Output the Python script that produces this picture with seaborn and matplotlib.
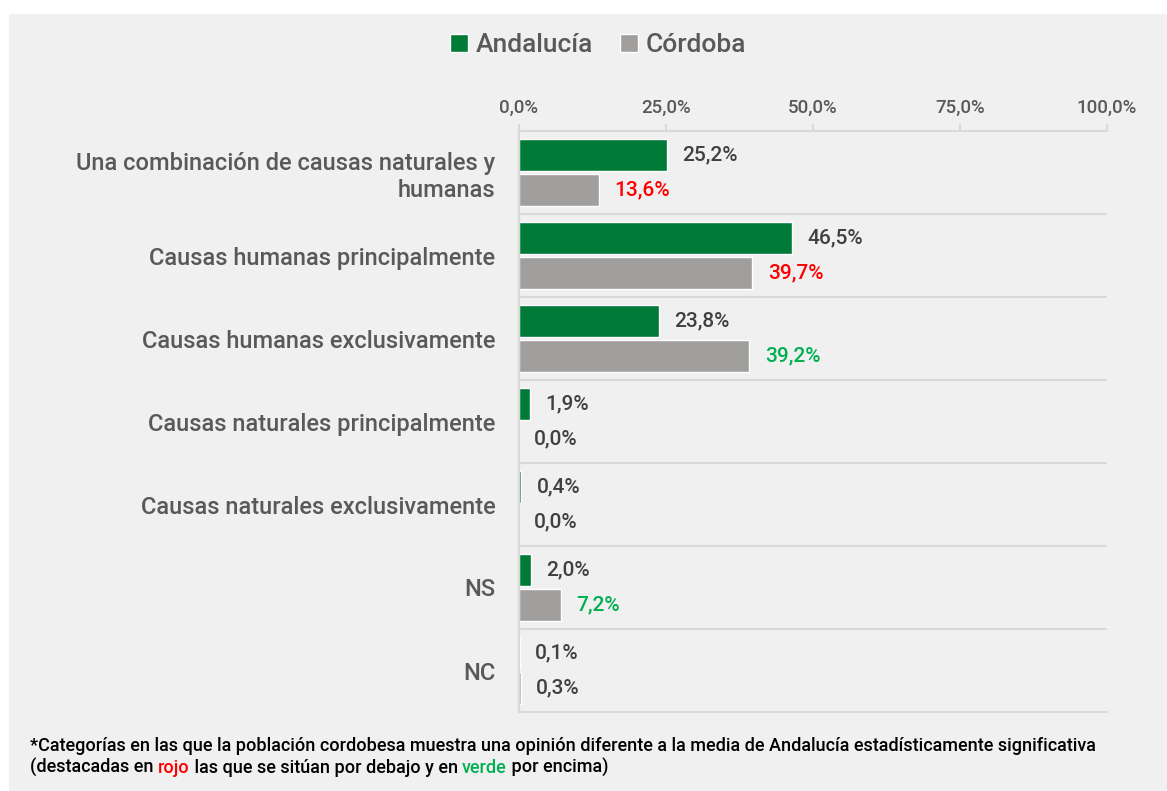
import matplotlib
matplotlib.use("Agg")
import matplotlib.pyplot as plt
from matplotlib.patches import Rectangle
import seaborn as sns
import pandas as pd

# data
categories = [
    "Una combinación de causas naturales y\nhumanas",
    "Causas humanas principalmente",
    "Causas humanas exclusivamente",
    "Causas naturales principalmente",
    "Causas naturales exclusivamente",
    "NS",
    "NC",
]
andalucia = [25.2, 46.5, 23.8, 1.9, 0.4, 2.0, 0.1]
cordoba = [13.6, 39.7, 39.2, 0.0, 0.0, 7.2, 0.3]
# significance flag for Córdoba: -1 below, +1 above, 0 none
cordoba_sig = [-1, -1, 1, 0, 0, 1, 0]
series = ["Andalucía", "Córdoba"]
x_ticks = [0, 25, 50, 75, 100]

GREEN = "#007A37"
GREY = "#A09F9D"
BG = "#F0F0F0"
LINE = "#D9D9D9"
TXT = "#595959"
VAL = "#404040"
RED = "#FF0000"
UP = "#00B050"

df = pd.DataFrame({
    "cat": categories * 2,
    "val": andalucia + cordoba,
    "serie": [series[0]] * len(categories) + [series[1]] * len(categories),
})

sns.set_theme(style="white")
plt.rcParams["font.family"] = ["Roboto", "DejaVu Sans"]
plt.rcParams["font.weight"] = "medium"

fig = plt.figure(figsize=(11.67, 7.91), dpi=100, facecolor="white")
fig.patches.append(Rectangle((9 / 1167, 0), 1, 1 - 14 / 791, transform=fig.transFigure,
                             facecolor=BG, edgecolor="none", zorder=-10))
ax = fig.add_axes([519 / 1167, 79 / 791, 588 / 1167, 581 / 791])
ax.set_facecolor(BG)

sns.barplot(data=df, y="cat", x="val", hue="serie", hue_order=series,
            palette=[GREEN, GREY], orient="h", width=0.84, gap=0.1,
            saturation=1, legend=False, ax=ax)

ax.set_xlim(0, 100)
ax.set_ylim(len(categories) - 0.5, -0.5)
ax.set_xticks(x_ticks)
ax.set_xticklabels([f"{t:.1f}%".replace(".", ",") for t in x_ticks])
ax.xaxis.tick_top()
ax.tick_params(axis="x", direction="out", length=5, width=1.5, color=LINE,
               labelcolor=TXT, labelsize=13.5, pad=5)
ax.tick_params(axis="y", length=0, labelcolor=TXT, labelsize=17, pad=17)
for lab in ax.get_yticklabels():
    lab.set_linespacing(1.2)
ax.set_xlabel("")
ax.set_ylabel("")

# separators between categories
for b in range(1, len(categories)):
    ax.axhline(b - 0.5, color=LINE, lw=1.5, zorder=0)
for side in ["top", "bottom", "left"]:
    ax.spines[side].set_color(LINE)
    ax.spines[side].set_linewidth(1.5)
ax.spines["right"].set_visible(False)

fmt = lambda v: f"{v:.1f}%".replace(".", ",")
ax.bar_label(ax.containers[0], labels=[fmt(v) for v in andalucia], padding=11,
             color=VAL, fontsize=15)
texts = ax.bar_label(ax.containers[1], labels=[fmt(v) for v in cordoba], padding=11,
                     color=VAL, fontsize=15)
for t, s in zip(texts, cordoba_sig):
    if s < 0:
        t.set_color(RED)
    elif s > 0:
        t.set_color(UP)

# legend
handles = [Rectangle((0, 0), 1, 1, facecolor=c) for c in [GREEN, GREY]]
fig.legend(handles, series, loc="center", bbox_to_anchor=(598 / 1167, 1 - 45 / 791),
           ncol=2, frameon=False, fontsize=19, labelcolor=TXT, handlelength=0.7,
           handleheight=0.7, handletextpad=0.3, columnspacing=1.0)

# footnote with coloured words
note_font = ["Liberation Sans Narrow", "Roboto", "DejaVu Sans"]
note_size = 13
fig.text(30 / 1167, 1 - 751 / 791,
         "*Categorías en las que la población cordobesa muestra una opinión diferente "
         "a la media de Andalucía estadísticamente significativa",
         fontsize=note_size, family=note_font, color="black", va="baseline")
parts = [("(destacadas en ", "black"), ("rojo", RED), (" las que se sitúan por debajo y en ", "black"),
         ("verde", UP), (" por encima)", "black")]
prev = fig.text(30 / 1167, 1 - 773 / 791, parts[0][0], fontsize=note_size,
                family=note_font, color=parts[0][1], va="baseline")
for txt, col in parts[1:]:
    prev = ax.annotate(txt, xy=(1, 0), xycoords=prev, va="bottom", ha="left",
                       fontsize=note_size, family=note_font, color=col,
                       annotation_clip=False)

fig.savefig("out.png", dpi=100, facecolor="white")
